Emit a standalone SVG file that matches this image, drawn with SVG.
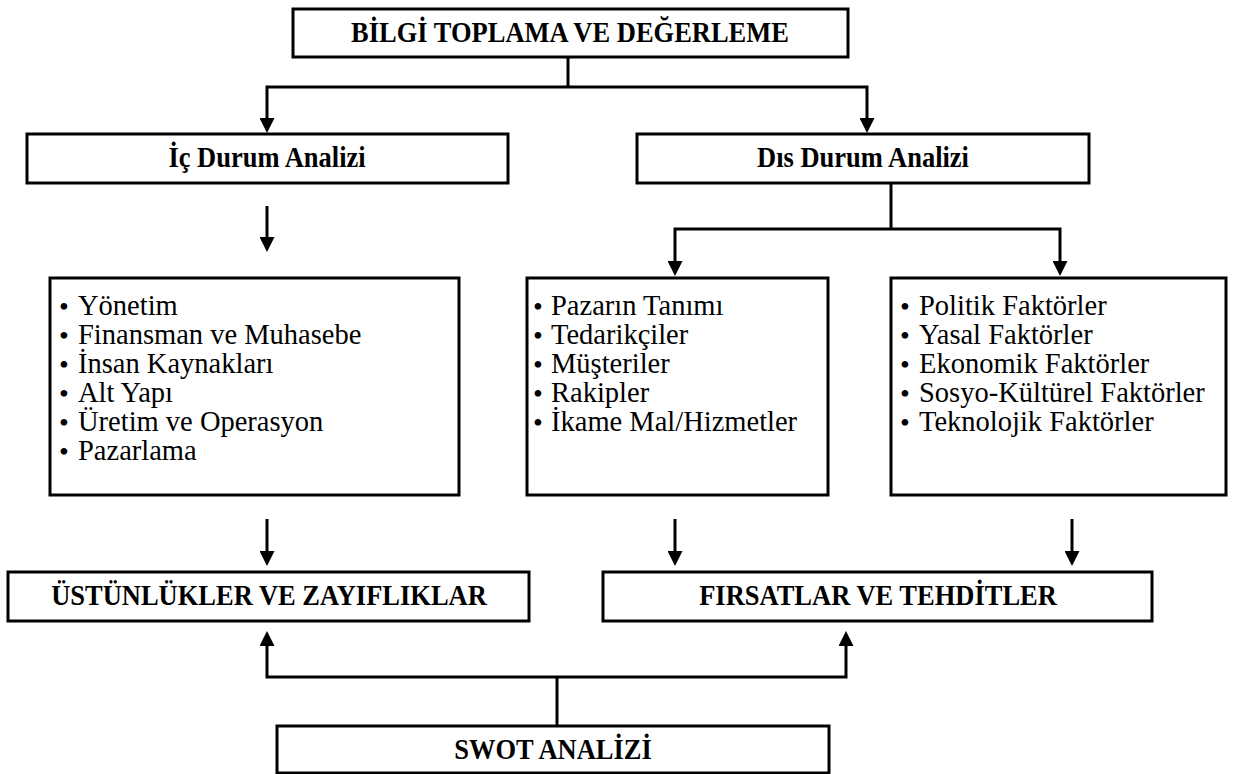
<svg xmlns="http://www.w3.org/2000/svg" width="1239" height="774" viewBox="0 0 1239 774">
  <style>
    .box { fill: #ffffff; stroke: #000000; stroke-width: 3; }
    .head { font-family: "Liberation Serif", "Times New Roman", serif; font-weight: bold; font-size: 26.5px; fill: #000000; text-anchor: middle; }
    .item { font-family: "Liberation Serif", "Times New Roman", serif; font-size: 28.5px; fill: #000000; }
    .bul { font-family: "Liberation Serif", "Times New Roman", serif; font-size: 28px; fill: #000000; text-anchor: middle; }
    .wire { fill: none; stroke: #000000; stroke-width: 3; stroke-linejoin: miter; }
    .arrow { fill: none; stroke: #000000; stroke-width: 3; marker-end: url(#head); }
  </style>
  <defs>
    <marker id="head" markerUnits="userSpaceOnUse" markerWidth="15" markerHeight="15" refX="10" refY="7.5" orient="auto">
      <path d="M0,0 L15,7.5 L0,15 Z" fill="#000000"/>
    </marker>
  </defs>
  <rect width="1239" height="774" fill="#ffffff"/>

  <!-- connectors -->
  <g id="connectors">
    <path class="wire" d="M568,57 V87"/>
    <path class="arrow" d="M568,87 H267 V128"/>
    <path class="arrow" d="M568,87 H867 V128"/>
    <path class="arrow" d="M267,206 V247"/>
    <path class="wire" d="M891,183 V229"/>
    <path class="arrow" d="M891,229 H675 V271"/>
    <path class="arrow" d="M891,229 H1060 V271"/>
    <path class="arrow" d="M267,519 V561"/>
    <path class="arrow" d="M675,519 V561"/>
    <path class="arrow" d="M1072,519 V561"/>
    <path class="wire" d="M557,726 V677"/>
    <path class="arrow" d="M557,677 H267 V636"/>
    <path class="arrow" d="M557,677 H846 V636"/>
  </g>

  <!-- box titles are set slightly tall: scale(1,1.12) about the baseline -->
  <g id="bilgi-toplama">
    <rect class="box" x="293" y="9" width="555" height="48"/>
    <text class="head" transform="translate(570,42) scale(1,1.12)">BİLGİ TOPLAMA VE DEĞERLEME</text>
  </g>

  <g id="ic-durum">
    <rect class="box" x="27" y="134" width="481" height="49"/>
    <text class="head" transform="translate(267,167) scale(1,1.12)">İç Durum Analizi</text>
  </g>

  <g id="dis-durum">
    <rect class="box" x="637" y="134" width="452" height="49"/>
    <text class="head" transform="translate(863,167) scale(1,1.12)">Dıs Durum Analizi</text>
  </g>

  <g id="ic-faktorler">
    <rect class="box" x="50" y="278" width="409" height="217"/>
    <text class="bul" x="64" y="316">•</text><text class="item" x="78" y="315">Yönetim</text>
    <text class="bul" x="64" y="345">•</text><text class="item" x="78" y="344">Finansman ve Muhasebe</text>
    <text class="bul" x="64" y="374">•</text><text class="item" x="78" y="373">İnsan Kaynakları</text>
    <text class="bul" x="64" y="403">•</text><text class="item" x="78" y="402">Alt Yapı</text>
    <text class="bul" x="64" y="432">•</text><text class="item" x="78" y="431">Üretim ve Operasyon</text>
    <text class="bul" x="64" y="461">•</text><text class="item" x="78" y="460">Pazarlama</text>
  </g>

  <g id="pazar-faktorler">
    <rect class="box" x="527" y="278" width="301" height="217"/>
    <text class="bul" x="538" y="316">•</text><text class="item" x="551" y="315">Pazarın Tanımı</text>
    <text class="bul" x="538" y="345">•</text><text class="item" x="551" y="344">Tedarikçiler</text>
    <text class="bul" x="538" y="374">•</text><text class="item" x="551" y="373">Müşteriler</text>
    <text class="bul" x="538" y="403">•</text><text class="item" x="551" y="402">Rakipler</text>
    <text class="bul" x="538" y="432">•</text><text class="item" x="551" y="431">İkame Mal/Hizmetler</text>
  </g>

  <g id="cevre-faktorler">
    <rect class="box" x="891" y="278" width="335" height="217"/>
    <text class="bul" x="905" y="316">•</text><text class="item" x="919" y="315">Politik Faktörler</text>
    <text class="bul" x="905" y="345">•</text><text class="item" x="919" y="344">Yasal Faktörler</text>
    <text class="bul" x="905" y="374">•</text><text class="item" x="919" y="373">Ekonomik Faktörler</text>
    <text class="bul" x="905" y="403">•</text><text class="item" x="919" y="402">Sosyo-Kültürel Faktörler</text>
    <text class="bul" x="905" y="432">•</text><text class="item" x="919" y="431">Teknolojik Faktörler</text>
  </g>

  <g id="ustunlukler">
    <rect class="box" x="8" y="572" width="521" height="49"/>
    <text class="head" transform="translate(269,605) scale(1,1.12)">ÜSTÜNLÜKLER VE ZAYIFLIKLAR</text>
  </g>

  <g id="firsatlar">
    <rect class="box" x="603" y="572" width="549" height="49"/>
    <text class="head" transform="translate(878,605) scale(1,1.12)">FIRSATLAR VE TEHDİTLER</text>
  </g>

  <g id="swot">
    <rect class="box" x="277" y="726" width="552" height="47"/>
    <text class="head" transform="translate(553,759) scale(1,1.12)">SWOT ANALİZİ</text>
  </g>
</svg>
